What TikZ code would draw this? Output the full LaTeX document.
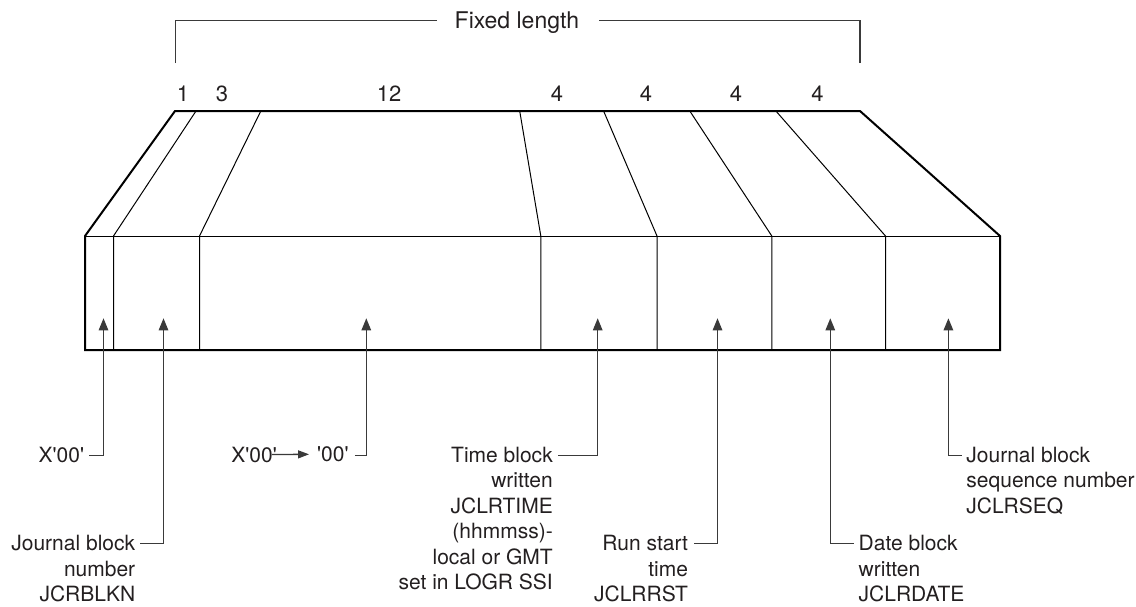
\documentclass[tikz,border=0pt]{standalone}
\usepackage{fontspec}
\newfontfamily\hv{TeX Gyre Heros}
\usetikzlibrary{arrows.meta}
\definecolor{ink}{HTML}{231F20}
\definecolor{leadc}{HTML}{3A3A3A}
\begin{document}
\begin{tikzpicture}[x=1pt,y=-1pt,
  outer/.style={line width=2pt,line join=miter,draw=black},
  divider/.style={line width=1pt,draw=black},
  leader/.style={line width=1.3pt,draw=leadc,-{Triangle[length=12pt,width=9.5pt]}},
  smallarrow/.style={line width=1.3pt,draw=leadc,-{Triangle[length=11pt,width=8pt]}},
  bracket/.style={line width=1.3pt,draw=leadc},
  lab/.style={font=\hv\fontsize{21}{25.5}\selectfont,text=ink,inner sep=0pt},
  lbl/.style={lab,align=right,anchor=north east},
  lbr/.style={lab,align=left,anchor=north west},
  num/.style={font=\hv\fontsize{22}{26}\selectfont,text=ink,inner sep=0pt,anchor=base},
]
\useasboundingbox (0,0) rectangle (1136,606);

% record outline
\draw[outer] (175,111) -- (860,111) -- (1000,236) -- (1000,350) -- (85,350) -- (85,236) -- cycle;
\draw[divider] (85,236) -- (1000,236);
\foreach \a/\b in {196/113.5, 260.8/199.5, 519.7/540.8, 603.6/657, 689.8/771.8, 775.9/885.5}
  \draw[divider] (\a,111) -- (\b,236) -- (\b,350);

% field lengths
\node[num] (n1) at (183,101.7) {1};
\node[num] (n2) at (222,101.7) {3};
\node[num] (n3) at (389,101.7) {12};
\node[num] (n4) at (557,101.7) {4};
\node[num] (n5) at (646,101.7) {4};
\node[num] (n6) at (736,101.7) {4};
\node[num] (n7) at (817.5,101.7) {4};

% Fixed length bracket
\node[font=\hv\fontsize{23}{27}\selectfont,text=ink,inner sep=0pt,anchor=base west] (title) at (454.5,28.3) {Fixed length};
\coordinate (bl) at (175.7,63);
\coordinate (br) at (860,63);
\coordinate (tl) at (437.3,20.7);
\coordinate (tr) at (598.7,20.7);
\draw[bracket] (bl) |- (tl);
\draw[bracket] (br) |- (tr);

% arrow tips
\coordinate (a1) at (103.5,318.3);
\coordinate (a2) at (163.5,318.3);
\coordinate (a3) at (366.3,318.3);
\coordinate (a4) at (597.7,318.3);
\coordinate (a5) at (717.5,318.3);
\coordinate (a6) at (830.3,318.3);
\coordinate (a7) at (948.4,318.3);

% leader starts
\coordinate (l1) at (89.3,455.5);
\coordinate (l2) at (140.4,543.3);
\coordinate (l3) at (354.8,455.5);
\coordinate (l4) at (558,455.5);
\coordinate (l5) at (694.2,543.3);
\coordinate (l6) at (853.5,543.3);
\coordinate (l7) at (961.7,455.5);

% labels
\node[lbl] (t1) at ([xshift=-5pt,yshift=9pt]l1) {X'00'};
\node[lbl] (t2) at ([xshift=-5pt,yshift=8pt]l2) {Journal block\\number\\JCRBLKN};
\node[lbl] (t3) at ([xshift=-6pt,yshift=9pt]l3) {'00'};
\node[lbl] (t3x) at (277,446.5) {X'00'};
\node[lbl] (t4) at ([xshift=-5pt,yshift=9pt]l4) {Time block\\written\\JCLRTIME\\(hhmmss)-\\local or GMT\\set in LOGR SSI};
\node[lbl] (t5) at ([xshift=-6pt,yshift=8pt]l5) {Run start\\time\\JCLRRST};
\node[lbr] (t6) at ([xshift=5pt,yshift=8pt]l6) {Date block\\written\\JCLRDATE};
\node[lbr] (t7) at ([xshift=4.5pt,yshift=9pt]l7) {Journal block\\sequence number\\JCLRSEQ};

% leaders
\draw[leader] (l1) -| (a1);
\draw[leader] (l2) -| (a2);
\draw[leader] (l3) -| (a3);
\draw[leader] (l4) -| (a4);
\draw[leader] (l5) -| (a5);
\draw[leader] (l6) -| (a6);
\draw[leader] (l7) -| (a7);
\draw[smallarrow] ([xshift=-5pt]t3x.east) -- ([xshift=-8pt]t3.west);
\end{tikzpicture}
\end{document}
